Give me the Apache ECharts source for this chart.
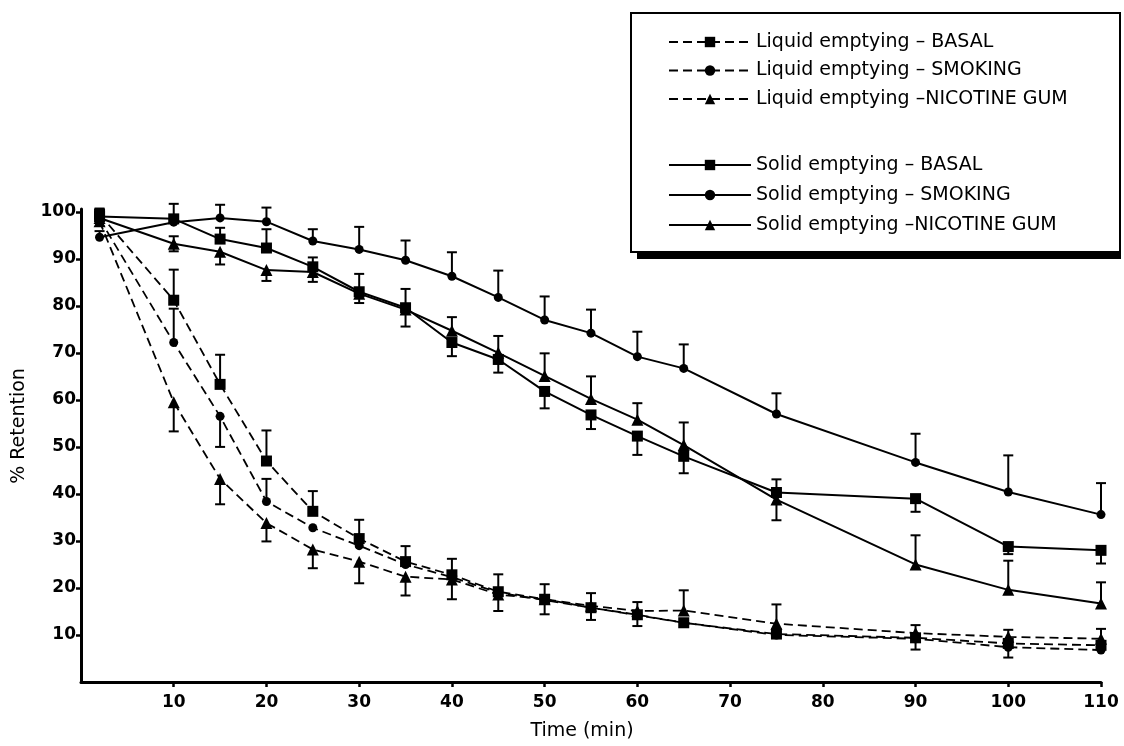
<!DOCTYPE html>
<html><head><meta charset="utf-8">
<script src="https://cdn.jsdelivr.net/npm/echarts@6/dist/echarts.min.js"></script>
<style>html,body{margin:0;padding:0;background:#fff}#c{width:1124px;height:746px}</style>
</head><body><div id="c"></div>
<script>
// time points (min)
const time = [2, 10, 15, 20, 25, 30, 35, 40, 45, 50, 55, 60, 65, 75, 90, 100, 110];
const xTicks = [10, 20, 30, 40, 50, 60, 70, 80, 90, 100, 110];
const yTicks = [10, 20, 30, 40, 50, 60, 70, 80, 90, 100];

const names = [
  'Liquid emptying \u2013 BASAL',
  'Liquid emptying \u2013 SMOKING',
  'Liquid emptying \u2013NICOTINE GUM',
  'Solid emptying \u2013 BASAL',
  'Solid emptying \u2013 SMOKING',
  'Solid emptying \u2013NICOTINE GUM'
];

// % retention values
const liquidBasal   = [99.5, 81.2, 63.3, 47.0, 36.3, 30.5, 25.6, 22.8, 19.2, 17.6, 15.8, 14.3, 12.6, 10.2, 9.4, 8.2, 7.8];
const liquidSmoking = [98.5, 72.2, 56.5, 38.4, 32.8, 29.0, 25.0, 22.3, 19.0, 17.4, 15.8, 14.2, 12.6, 10.0, 9.2, 7.4, 6.8];
const liquidGum     = [98.0, 59.5, 43.2, 33.8, 28.2, 25.6, 22.4, 21.8, 18.6, 17.6, 16.2, 15.1, 15.2, 12.4, 10.4, 9.6, 9.2];
const solidBasal    = [99.0, 98.5, 94.2, 92.3, 88.3, 83.0, 79.6, 72.2, 68.6, 61.8, 56.8, 52.3, 48.0, 40.3, 39.0, 28.8, 28.0];
const solidSmoking  = [94.6, 97.8, 98.7, 97.9, 93.8, 92.0, 89.7, 86.3, 81.8, 77.0, 74.2, 69.2, 66.7, 57.0, 46.7, 40.4, 35.6];
const solidGum      = [98.7, 93.2, 91.5, 87.6, 87.2, 82.6, 79.2, 74.7, 70.0, 65.1, 60.2, 55.8, 50.4, 38.8, 25.0, 19.6, 16.7];

// error bars (upper / lower extent, 0 = not drawn)
const liquidBasalUp     = [1.2, 6.5, 6.3, 6.5, 4.3, 4.0, 3.3, 3.4, 3.7, 3.2, 0, 2.7, 0, 0, 0, 0, 0];
const liquidBasalDown   = [0, 0, 0, 0, 0, 0, 0, 0, 0, 0, 0, 0, 0, 0, 0, 0, 0];
const liquidSmokingUp   = [0, 7.2, 0, 4.8, 0, 0, 0, 0, 0, 0, 3.1, 0, 0, 0, 0, 0, 0];
const liquidSmokingDown = [0, 0, 6.5, 0, 0, 0, 0, 0, 0, 3.0, 0, 2.3, 0, 0, 2.3, 2.2, 0];
const liquidGumUp       = [0, 0, 0, 0, 0, 0, 0, 0, 0, 0, 0, 0, 4.3, 4.1, 1.7, 1.5, 2.1];
const liquidGumDown     = [0, 6.2, 5.4, 3.9, 4.0, 4.6, 4.0, 4.2, 3.5, 0, 3.0, 0, 0, 0, 0, 0, 0];
const solidBasalUp      = [1.5, 3.2, 2.4, 4.0, 2.0, 3.8, 4.0, 0, 0, 0, 0, 0, 0, 2.8, 0, 0, 0];
const solidBasalDown    = [0, 0, 0, 0, 0, 0, 4.0, 2.9, 2.8, 3.6, 3.0, 4.0, 3.6, 0, 2.8, 1.6, 2.8];
const solidSmokingUp    = [1.3, 0, 2.8, 3.0, 2.5, 4.8, 4.2, 5.1, 5.7, 5.0, 5.0, 5.3, 5.1, 4.4, 6.1, 7.8, 6.7];
const solidSmokingDown  = [0, 0, 0, 0, 0, 0, 0, 0, 0, 0, 0, 0, 0, 0, 0, 0, 0];
const solidGumUp        = [0, 1.6, 0, 0, 0, 0, 0, 2.9, 3.6, 4.8, 4.8, 3.5, 4.8, 0, 6.2, 6.2, 4.5];
const solidGumDown      = [0, 1.6, 2.7, 2.3, 2.1, 2.0, 0, 0, 0, 0, 0, 0, 0, 4.4, 0, 0, 0];

const INK = '#000';
const FONT = "'DejaVu Sans', 'Liberation Sans', sans-serif";

function pairs(vals) { return time.map((t, i) => [t, vals[i]]); }

function lineSeries(name, vals, dashed, symbol, size) {
  return {
    type: 'line', name: name, data: pairs(vals),
    symbol: symbol, symbolSize: size, showSymbol: true,
    smooth: false,
    lineStyle: { color: INK, width: dashed ? 1.8 : 2, type: dashed ? [9, 5] : 'solid' },
    itemStyle: { color: INK, borderWidth: 0 },
    emphasis: { disabled: true }, z: 4, animation: false
  };
}

function errSeries(vals, up, down) {
  return {
    type: 'custom', silent: true, z: 3, animation: false,
    data: time.map((t, i) => [t, vals[i], up[i], down[i]]),
    encode: { x: 0, y: 1 },
    renderItem: function (params, api) {
      const t = api.value(0), v = api.value(1), u = api.value(2), d = api.value(3);
      const c = api.coord([t, v]);
      const cap = 5, st = { stroke: INK, lineWidth: 2 };
      const ch = [];
      [[u, 1], [d, -1]].forEach(function (e) {
        if (e[0] > 0) {
          const p = api.coord([t, v + e[1] * e[0]]);
          ch.push({ type: 'line', shape: { x1: c[0], y1: c[1], x2: p[0], y2: p[1] }, style: st });
          ch.push({ type: 'line', shape: { x1: p[0] - cap, y1: p[1], x2: p[0] + cap, y2: p[1] }, style: st });
        }
      });
      return { type: 'group', children: ch };
    }
  };
}

const chart = echarts.init(document.getElementById('c'), null, { renderer: 'canvas' });
const legendText = { fontFamily: FONT, fontSize: 19, color: INK, lineHeight: 22 };
chart.setOption({
  backgroundColor: '#fff',
  animation: false,
  graphic: [
    { type: 'rect', z: 1, shape: { x: 631, y: 13, width: 489, height: 239 }, style: { fill: '#fff', stroke: INK, lineWidth: 2 } },
    { type: 'rect', z: 1, shape: { x: 637, y: 252, width: 484, height: 7 }, style: { fill: INK } }
  ],
  legend: [
    { data: names.slice(0, 3), orient: 'vertical', left: 663, top: 26, itemWidth: 82, itemHeight: 13, itemGap: 6.5, itemTextGap: 12, selectedMode: false, textStyle: legendText, z: 10 },
    { data: names.slice(3), orient: 'vertical', left: 663, top: 149, itemWidth: 82, itemHeight: 13, itemGap: 8, itemTextGap: 12, selectedMode: false, textStyle: legendText, z: 10 }
  ],
  grid: { left: 81, right: 23, top: 209, bottom: 62, containLabel: false },
  xAxis: {
    type: 'value', min: 0, max: 110, interval: 10,
    name: 'Time (min)', nameLocation: 'middle', nameGap: 40,
    nameTextStyle: { fontFamily: FONT, fontSize: 19, color: INK, padding: [0, 18, 0, 0] },
    axisLine: { show: true, lineStyle: { color: INK, width: 3 } },
    axisTick: { show: true, length: 5, lineStyle: { color: INK, width: 2.5 }, customValues: xTicks },
    axisLabel: { fontFamily: FONT, fontWeight: 'bold', fontSize: 17, color: INK, margin: 12, customValues: xTicks },
    splitLine: { show: false }
  },
  yAxis: {
    type: 'value', min: 0, max: 100.6, interval: 10,
    name: '% Retention', nameLocation: 'middle', nameGap: 52,
    nameTextStyle: { fontFamily: FONT, fontSize: 19, color: INK, padding: [0, 0, 0, 39] },
    axisLine: { show: true, lineStyle: { color: INK, width: 3 } },
    axisTick: { show: true, length: 5, lineStyle: { color: INK, width: 2.5 }, customValues: yTicks },
    axisLabel: { fontFamily: FONT, fontWeight: 'bold', fontSize: 17, color: INK, margin: 5, customValues: yTicks },
    splitLine: { show: false }
  },
  series: [
    lineSeries(names[0], liquidBasal, true, 'rect', 11),
    lineSeries(names[1], liquidSmoking, true, 'circle', 9),
    lineSeries(names[2], liquidGum, true, 'triangle', 12),
    lineSeries(names[3], solidBasal, false, 'rect', 11),
    lineSeries(names[4], solidSmoking, false, 'circle', 9),
    lineSeries(names[5], solidGum, false, 'triangle', 12),
    errSeries(liquidBasal, liquidBasalUp, liquidBasalDown),
    errSeries(liquidSmoking, liquidSmokingUp, liquidSmokingDown),
    errSeries(liquidGum, liquidGumUp, liquidGumDown),
    errSeries(solidBasal, solidBasalUp, solidBasalDown),
    errSeries(solidSmoking, solidSmokingUp, solidSmokingDown),
    errSeries(solidGum, solidGumUp, solidGumDown)
  ]
});
</script>
</body></html>
